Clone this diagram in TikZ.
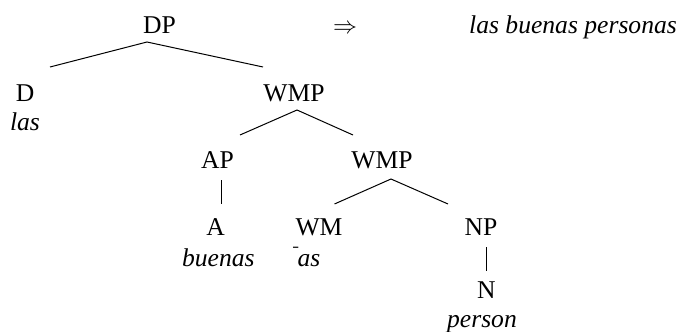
\documentclass[tikz,border=0pt]{standalone}
\usepackage{fontspec}
\setmainfont{LiberationSerif}[
  Extension=.ttf,
  UprightFont=*-Regular,
  ItalicFont=*-Italic,
  BoldFont=*-Bold]
\usetikzlibrary{positioning}

\begin{document}
\begin{tikzpicture}[
  x=0.5pt, y=-0.5pt,
  cat/.style={inner sep=0pt, anchor=base, font=\fontsize{12.8pt}{15pt}\selectfont},
  wd/.style={cat, font=\fontsize{12.8pt}{15pt}\selectfont\itshape},
  branch/.style={line width=0.5pt}
]
\useasboundingbox (0,0) rectangle (681,332);
% categories
\node[cat] (dp) at (159.5,33) {DP};
\node[cat] (d) at (25,101) {D};
\node[cat] (wmp) at (294,101) {WMP};
\node[cat] (ap) at (217.5,168) {AP};
\node[cat] (wmp2) at (382,168) {WMP};
\node[cat] (a) at (215.5,235) {A};
\node[cat] (wm) at (319,235) {WM};
\node[cat] (np) at (481,235) {NP};
\node[cat] (n) at (486.3,298) {N};
% words
\node[wd] (las) at (25,130) {las};
\node[wd] (buenas) at (218.3,266) {buenas};
\node[wd, anchor=base west] (as) at (292,266) {\scalebox{0.4}[1]{¯}as};
\node[wd] (person) at (482,327) {person};
% result
\node[cat] (arr) at (345,33) {$\Rightarrow$};
\node[wd] (gloss) at (573,33) {las buenas personas};
% branch ends
\coordinate (dp-s) at (147,42);
\coordinate (d-n) at (50,67);
\coordinate (wmp-n) at (263,67);
\coordinate (wmp-s) at (297,110);
\coordinate (ap-n) at (240,135);
\coordinate (wmp2-n) at (353,135);
\coordinate (ap-s) at (221,180);
\coordinate (a-n) at (221,204);
\coordinate (wmp2-s) at (391,179);
\coordinate (wm-n) at (334.5,204);
\coordinate (np-n) at (448,204);
\coordinate (np-s) at (486,247);
\coordinate (n-n) at (486,271);
\draw[branch] (d-n) -- (dp-s) -- (wmp-n);
\draw[branch] (ap-n) -- (wmp-s) -- (wmp2-n);
\draw[branch] (ap-s) -- (a-n);
\draw[branch] (wm-n) -- (wmp2-s) -- (np-n);
\draw[branch] (np-s) -- (n-n);
\end{tikzpicture}
\end{document}
